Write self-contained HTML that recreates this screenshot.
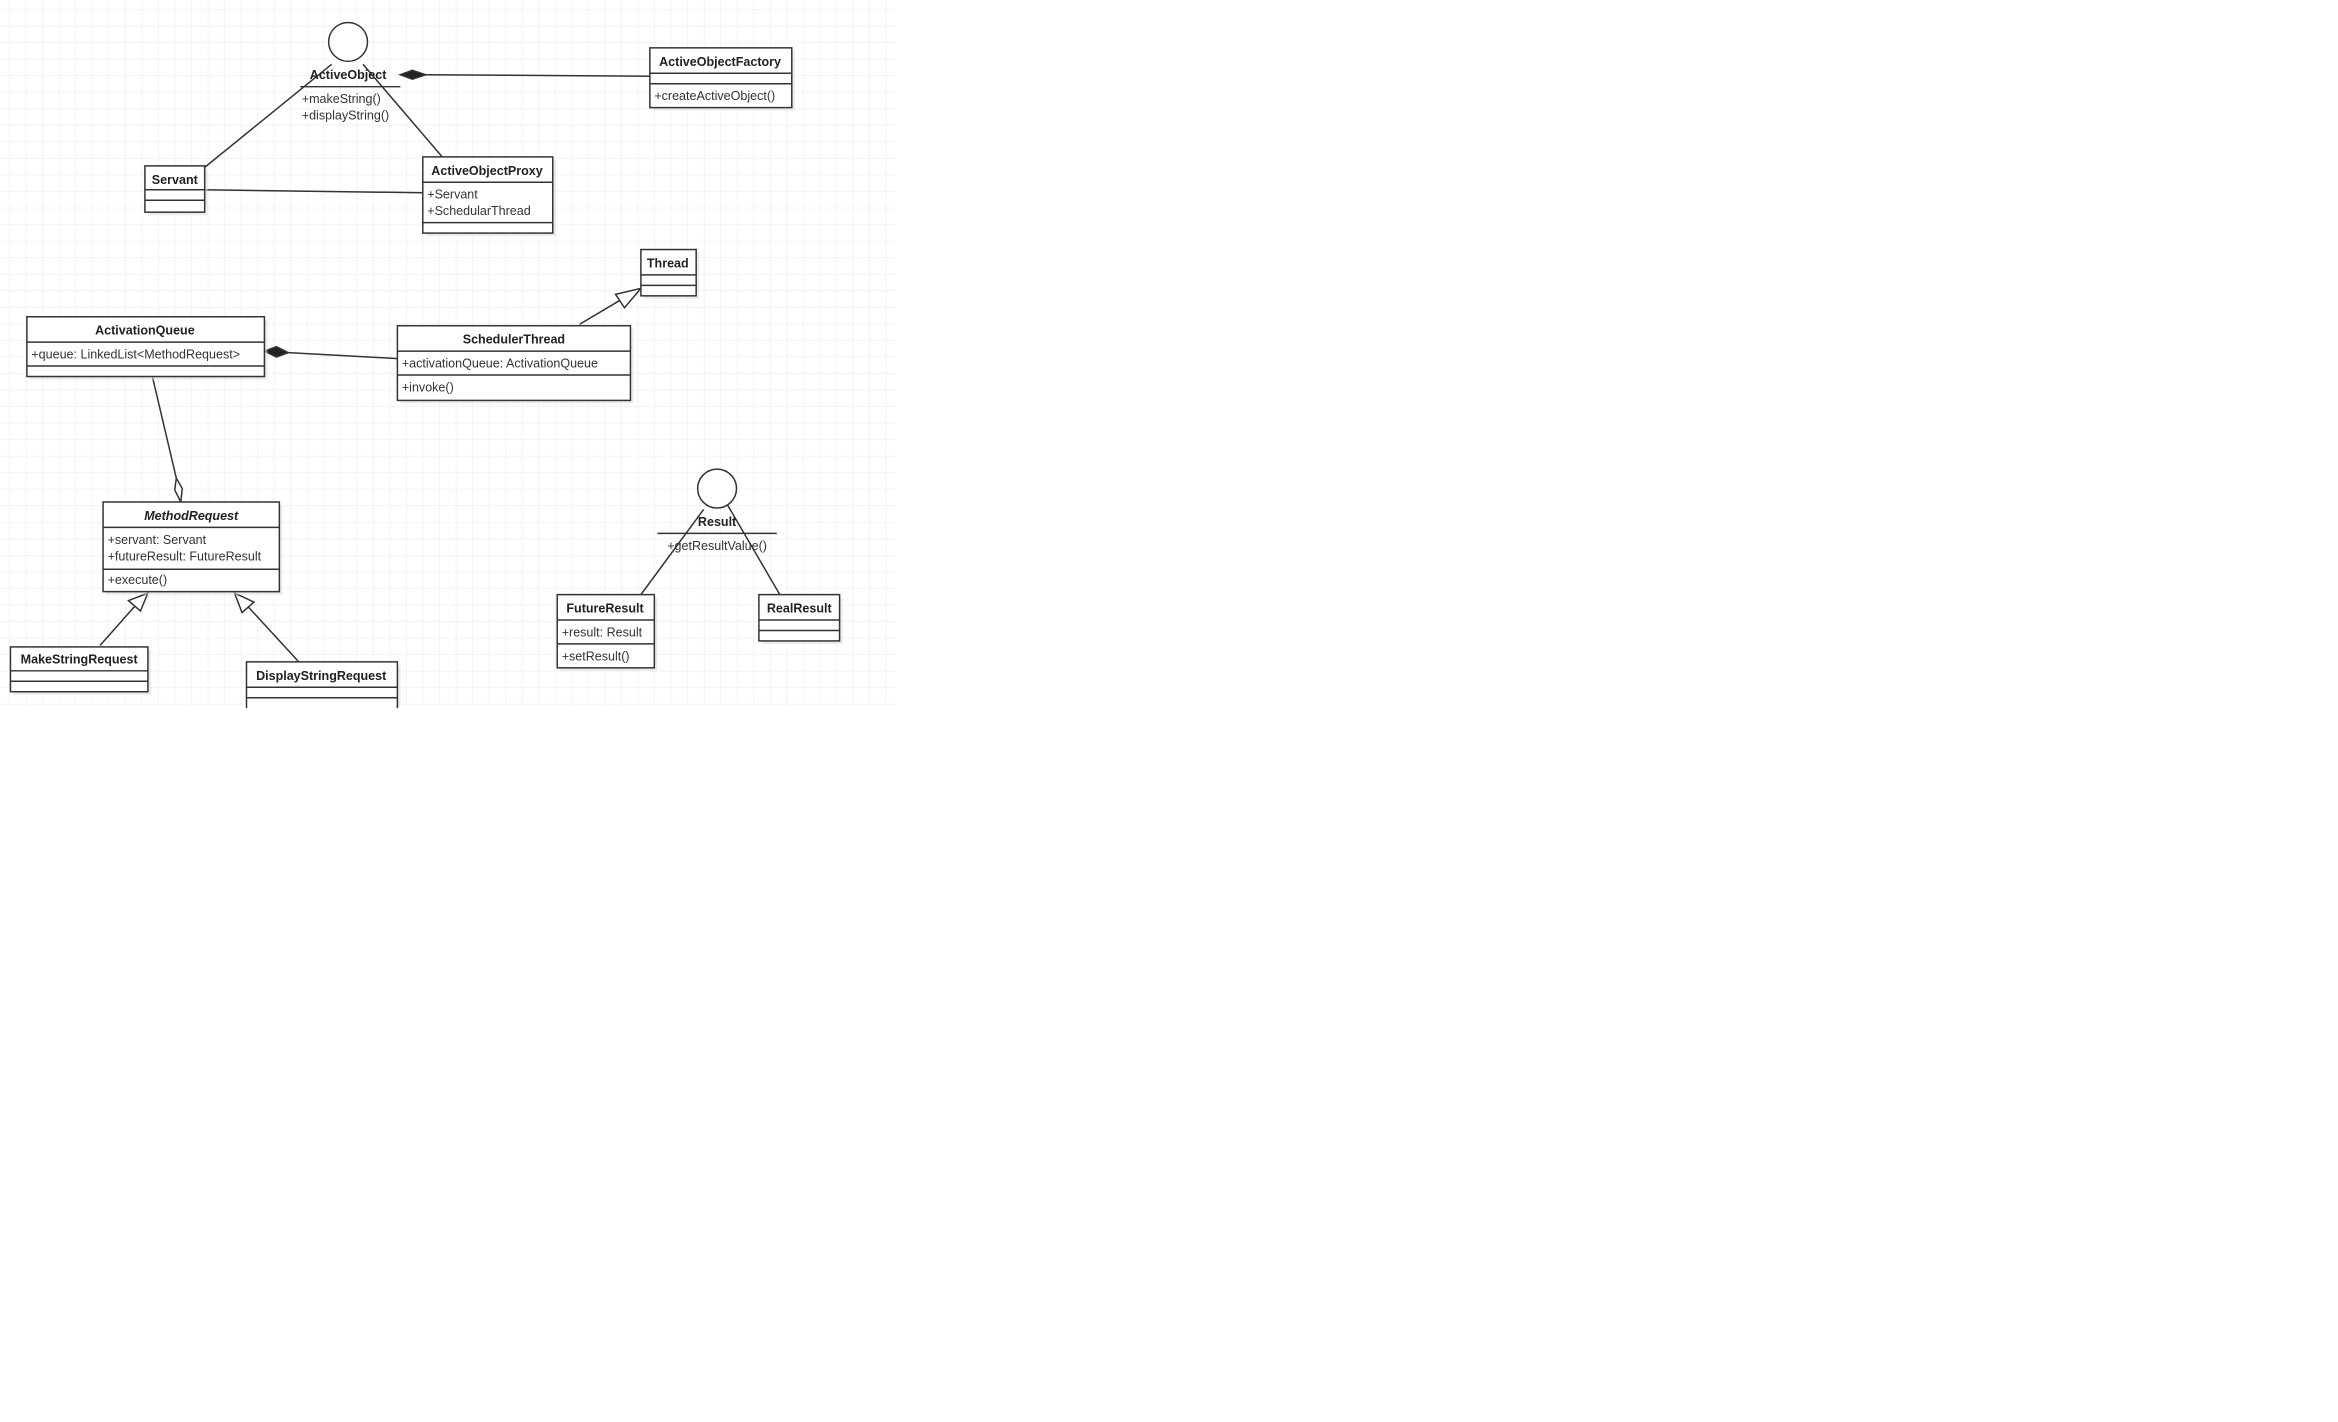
<!DOCTYPE html>
<html><head><meta charset="utf-8"><style>
html,body{margin:0;padding:0;background:#fff;width:2338px;height:1422px;overflow:hidden}
svg{display:block}
text{font-family:"Liberation Sans",sans-serif;font-size:8.4px;fill:#333}
.b{font-weight:bold;fill:#222}
</style></head><body>
<svg width="2338" height="1422" viewBox="0 0 1565 951.8" xmlns="http://www.w3.org/2000/svg">
<defs>
<pattern id="g" x="6.6" y="6.6" width="11.07" height="11.07" patternUnits="userSpaceOnUse">
<path d="M11.07 0V11.07H0" fill="none" stroke="#ececec" stroke-width="0.8"/>
</pattern>
</defs>
<rect x="0" y="0" width="600" height="473" fill="url(#g)"/>
<g fill="#fff" stroke="#333" stroke-width="1">
<circle cx="233" cy="28" r="13"/>
<line x1="201" y1="58" x2="268" y2="58"/>
<line x1="285" y1="50" x2="435" y2="51"/>
<polygon points="268,50 276,47 285,50 276,53" fill="#222"/>
<line x1="137" y1="112" x2="222" y2="43"/>
<line x1="137" y1="127" x2="283" y2="129"/>
<line x1="243" y1="43" x2="296" y2="105"/>
<line x1="388" y1="217" x2="415" y2="201"/>
<polygon points="429,193 412,197 418,206"/>
<line x1="193" y1="236" x2="266" y2="240"/>
<polygon points="177,235 185,232 193,236 185,239" fill="#222"/>
<line x1="102" y1="252" x2="118" y2="320"/>
<polygon points="118,320 122,327 121,336 117,328"/>
<line x1="67" y1="432" x2="90" y2="406"/>
<polygon points="99,397 86,402 94,409"/>
<line x1="200" y1="443" x2="166" y2="406"/>
<polygon points="157,397 162,410 170,403"/>
<circle cx="480" cy="327" r="13"/>
<line x1="440" y1="357" x2="520" y2="357"/>
<line x1="429" y1="398" x2="471" y2="341"/>
<line x1="522" y1="398" x2="487" y2="338"/>
</g>
<g stroke="#333" stroke-width="1">
<g fill="#ddd" stroke="none" opacity="0.6">
<rect x="437" y="34" width="95" height="40"/><rect x="99" y="113" width="40" height="31"/>
<rect x="285" y="107" width="87" height="51"/><rect x="431" y="169" width="37" height="31"/>
<rect x="268" y="220" width="156" height="50"/><rect x="20" y="214" width="159" height="40"/>
<rect x="71" y="338" width="118" height="60"/><rect x="9" y="435" width="92" height="30"/>
<rect x="167" y="445" width="101" height="28"/><rect x="375" y="400" width="65" height="49"/>
<rect x="510" y="400" width="54" height="31"/>
</g>
<g fill="#fff">
<rect x="435" y="32" width="95" height="40"/><rect x="97" y="111" width="40" height="31"/>
<rect x="283" y="105" width="87" height="51"/><rect x="429" y="167" width="37" height="31"/>
<rect x="266" y="218" width="156" height="50"/><rect x="18" y="212" width="159" height="40"/>
<rect x="69" y="336" width="118" height="60"/><rect x="7" y="433" width="92" height="30"/>
<rect x="165" y="443" width="101" height="32"/><rect x="373" y="398" width="65" height="49"/>
<rect x="508" y="398" width="54" height="31"/>
</g>
<path fill="none" d="M435 49H530M435 56H530 M97 127H137M97 134H137 M283 122H370M283 149H370
M429 184H466M429 191H466 M266 235H422M266 251H422 M18 229H177M18 245H177
M69 353H187M69 381H187 M7 449H99M7 456H99 M165 460H266M165 467H266
M373 415H438M373 431H438 M508 415H562M508 422H562"/>
</g>
<rect x="160" y="474" width="120" height="6" fill="#fff"/>
<text class="b" x="233" y="53" text-anchor="middle">ActiveObject</text>
<text x="202" y="69">+makeString()</text>
<text x="202" y="80">+displayString()</text>
<text class="b" x="482" y="44" text-anchor="middle">ActiveObjectFactory</text>
<text x="438" y="67">+createActiveObject()</text>
<text class="b" x="117" y="123" text-anchor="middle">Servant</text>
<text class="b" x="326" y="117" text-anchor="middle">ActiveObjectProxy</text>
<text x="286" y="133">+Servant</text>
<text x="286" y="144">+SchedularThread</text>
<text class="b" x="447" y="179" text-anchor="middle">Thread</text>
<text class="b" x="344" y="230" text-anchor="middle">SchedulerThread</text>
<text x="269" y="246">+activationQueue: ActivationQueue</text>
<text x="269" y="262">+invoke()</text>
<text class="b" x="97" y="224" text-anchor="middle">ActivationQueue</text>
<text x="21" y="240">+queue: LinkedList&lt;MethodRequest&gt;</text>
<text class="b" x="128" y="348" text-anchor="middle" font-style="italic">MethodRequest</text>
<text x="72" y="364">+servant: Servant</text>
<text x="72" y="375">+futureResult: FutureResult</text>
<text x="72" y="391">+execute()</text>
<text class="b" x="53" y="444" text-anchor="middle">MakeStringRequest</text>
<text class="b" x="215" y="455" text-anchor="middle">DisplayStringRequest</text>
<text class="b" x="480" y="352" text-anchor="middle">Result</text>
<text x="480" y="368" text-anchor="middle">+getResultValue()</text>
<text class="b" x="405" y="410" text-anchor="middle">FutureResult</text>
<text x="376" y="426">+result: Result</text>
<text x="376" y="442">+setResult()</text>
<text class="b" x="535" y="410" text-anchor="middle">RealResult</text>
</svg>
</body></html>
